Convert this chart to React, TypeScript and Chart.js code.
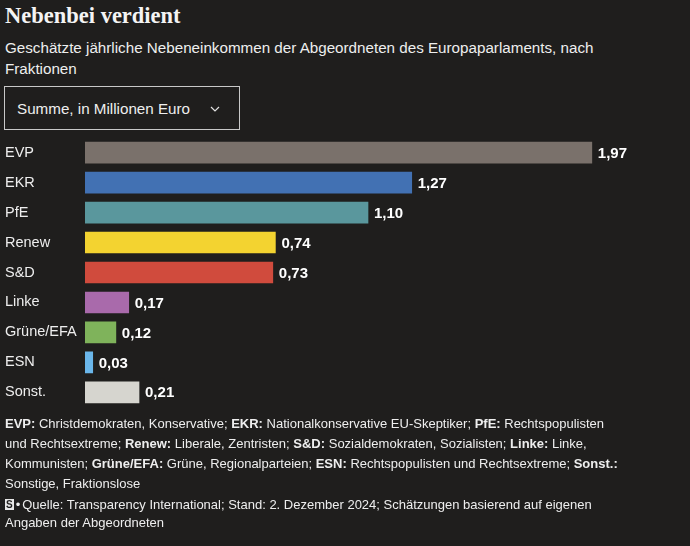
import React, { useEffect, useRef } from "react";
import { Chart, registerables } from "chart.js";

Chart.register(...registerables);

const categories = ["EVP", "EKR", "PfE", "Renew", "S&D", "Linke", "Grüne/EFA", "ESN", "Sonst."];
const values = [1.97, 1.27, 1.1, 0.74, 0.73, 0.17, 0.12, 0.03, 0.21];
const colors = ["#7a716b", "#4271b3", "#5a979d", "#f3d330", "#d04b3d", "#a96aab", "#7fb35b", "#6ab6ea", "#d6d5cf"];

const BG = "#1f1e1d";
const TEXT = "#eeeeee";

const valueLabels = {
  id: "valueLabels",
  afterDatasetsDraw(chart: any) {
    const ctx = chart.ctx;
    const meta = chart.getDatasetMeta(0);
    ctx.save();
    ctx.font = "bold 15px 'Liberation Sans', Arial, sans-serif";
    ctx.fillStyle = "#ffffff";
    ctx.textBaseline = "middle";
    ctx.textAlign = "left";
    meta.data.forEach((el: any, i: number) => {
      const v = chart.data.datasets[0].data[i];
      ctx.fillText(v.toFixed(2).replace(".", ","), el.x + 6, el.y + 1);
    });
    ctx.restore();
  },
};

function BarChart() {
  const ref = useRef<HTMLCanvasElement | null>(null);
  useEffect(() => {
    const chart = new Chart(ref.current as HTMLCanvasElement, {
      type: "bar",
      data: {
        labels: categories,
        datasets: [
          {
            data: values,
            backgroundColor: colors,
            borderWidth: 0,
            barThickness: 21,
          },
        ],
      },
      options: {
        indexAxis: "y",
        animation: false,
        responsive: false,
        maintainAspectRatio: false,
        layout: { padding: { left: 5, right: 39, top: 0, bottom: 0 } },
        plugins: { legend: { display: false }, tooltip: { enabled: false } },
        scales: {
          x: { display: false, min: 0, max: 2.2 },
          y: {
            grid: { display: false, drawTicks: false },
            border: { display: false },
            ticks: {
              crossAlign: "far",
              color: TEXT,
              padding: 0,
              font: { family: "'Liberation Sans', Arial, sans-serif", size: 14.5 },
            },
            afterFit(scale: any) {
              scale.width = 80;
            },
          },
        },
      },
      plugins: [valueLabels],
    } as any);
    return () => chart.destroy();
  }, []);
  return <canvas ref={ref} width={690} height={287} style={{ position: "absolute", left: 0, top: 129, width: 690, height: 287 }} />;
}

export default function App() {
  useEffect(() => {
    document.body.style.margin = "0";
    document.body.style.background = BG;
  }, []);
  const sans = "'Liberation Sans', Arial, sans-serif";
  const b = { fontWeight: 700 } as React.CSSProperties;
  return (
    <div style={{ position: "relative", width: 690, height: 546, background: BG, color: TEXT, fontFamily: sans, overflow: "hidden" }}>
      <div style={{ position: "absolute", left: 5, top: 3, fontFamily: "'Liberation Serif', serif", fontWeight: 700, fontSize: 22.5, lineHeight: "26px", whiteSpace: "nowrap", color: "#f4f4f4" }}>
        Nebenbei verdient
      </div>
      <div style={{ position: "absolute", left: 5, top: 37, fontSize: 15.2, lineHeight: "21px", whiteSpace: "nowrap" }}>
        Geschätzte jährliche Nebeneinkommen der Abgeordneten des Europaparlaments, nach
        <br />
        Fraktionen
      </div>
      <div style={{ position: "absolute", left: 4, top: 86, width: 234, height: 42, border: "1px solid #c8c8c8" }}>
        <div style={{ position: "absolute", left: 12, top: 12, fontSize: 15.2, lineHeight: "20px", whiteSpace: "nowrap" }}>
          Summe, in Millionen Euro
        </div>
        <svg width="10" height="8" style={{ position: "absolute", left: 205, top: 18 }}>
          <polyline points="1,2 5,6 9,2" fill="none" stroke="#e0e0e0" strokeWidth="1.2" />
        </svg>
      </div>
      <BarChart />
      <div style={{ position: "absolute", left: 5, top: 414, fontSize: 13, lineHeight: "20px", whiteSpace: "nowrap" }}>
        <span style={b}>EVP:</span> Christdemokraten, Konservative; <span style={b}>EKR:</span> Nationalkonservative EU-Skeptiker; <span style={b}>PfE:</span> Rechtspopulisten
        <br />
        und Rechtsextreme; <span style={b}>Renew:</span> Liberale, Zentristen; <span style={b}>S&amp;D:</span> Sozialdemokraten, Sozialisten; <span style={b}>Linke:</span> Linke,
        <br />
        Kommunisten; <span style={b}>Grüne/EFA:</span> Grüne, Regionalparteien; <span style={b}>ESN:</span> Rechtspopulisten und Rechtsextreme; <span style={b}>Sonst.:</span>
        <br />
        Sonstige, Fraktionslose
      </div>
      <div style={{ position: "absolute", left: 5, top: 496, fontSize: 13, lineHeight: "18px", whiteSpace: "nowrap" }}>
        <span style={{ display: "inline-block", background: "#e8e8e8", color: BG, fontWeight: 700, fontSize: 10, lineHeight: "11px", padding: "0 1px", verticalAlign: "1px" }}>S</span>
        <span style={{ margin: "0 2px" }}>•</span>Quelle: Transparency International; Stand: 2. Dezember 2024; Schätzungen basierend auf eigenen
        <br />
        Angaben der Abgeordneten
      </div>
    </div>
  );
}
